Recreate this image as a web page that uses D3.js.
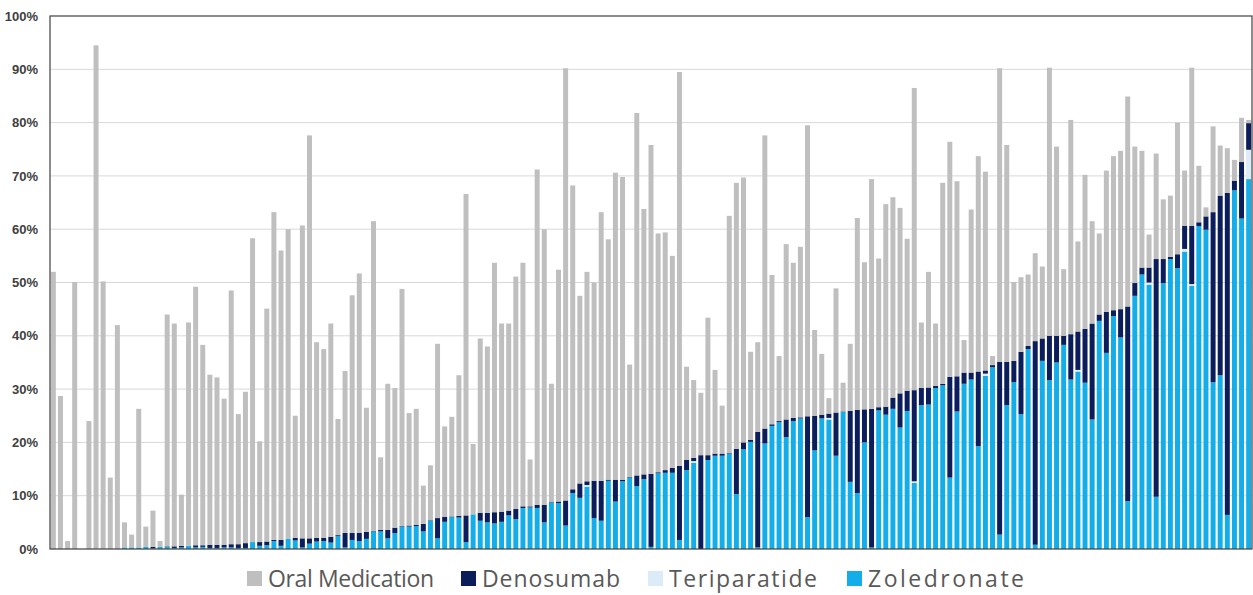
<!DOCTYPE html>
<html>
<head>
<meta http-equiv="Content-Type" content="text/html; charset=utf-8" />
<script src="https://cdn.jsdelivr.net/npm/d3@7/dist/d3.min.js"></script>
<title>Treatment mix</title>
<style>
  body { margin: 0; background: #fff; }
</style>
</head>
<body>
<svg width="1253" height="595" id="mainsvg"></svg>
<script>
// share of patients (%) per site, sites sorted by injectable share
const zoledronate = [0,0,0,0,0,0,0,0,0,0, 0.3,0.3,0.3,0.4,0.1,0.4,0.4,0.2,0.3,0.6,
  0.3,0.4,0.2,0.2,0.3,0.3,0.2,0.2,1.3,0.6, 0.7,1.5,0.6,1.9,1.6,0.3,1.0,1.4,1.5,1.2,
  2.4,0.3,1.7,1.5,1.9,3.3,3.3,2.0,3.0,4.2, 4.2,4.3,3.3,5.3,2.0,5.1,6.0,5.9,1.3,6.5,
  5.3,5.0,4.8,5.1,6.3,5.6,7.7,7.8,7.7,5.0, 8.7,8.6,4.4,10.5,9.6,11.7,5.8,5.3,12.8,8.9,
  12.7,13.4,11.8,13.1,0.4,14.2,14.3,14.3,1.7,14.8, 16.2,0,16.7,17.5,17.5,17.9,10.3,18.7,20.1,0.3,
  19.8,23.1,23.8,21.0,24.0,24.5,6.0,18.5,24.5,24.3, 17.5,25.7,12.6,10.5,20.0,0.3,26.0,25.2,26.3,22.8,
  25.9,12.4,27.0,27.1,30.2,30.7,13.4,25.8,31.0,31.8, 19.3,32.5,34.1,2.7,27.0,31.3,25.3,37.5,0.8,35.3,
  31.7,35.0,38.3,31.8,33.3,31.2,24.3,42.8,36.8,43.7, 39.7,9.0,47.5,51.5,49.6,9.8,49.9,54.4,52.7,55.8,
  49.4,60.6,59.9,31.3,32.6,6.4,67.3,62.0,69.4];
const teriparatide = [0,0,0,0,0,0,0,0,0,0, 0,0,0,0,0,0,0,0,0,0,
  0,0,0,0,0,0,0,0,0,0, 0,0,0,0,0,0,0,0,0,0,
  0,0,0,0,0,0,0,0,0,0, 0,0,0,0,0,0,0,0,0,0,
  0,0,0,0,0,0,0,0,0,0, 0,0,0,0,0,0.3,0,0,0,0,
  0,0,0,0,0,0,0,0,0,0, 0.3,0,0,0,0,0,0,0,0,0,
  0,0,0,0,0,0,0,0,0,0.3, 0,0,0,0,0,0,0,0,0,0,
  0,0.3,0,0,0,0,0,0,0,0, 0,0.4,0,0,0,0,0,0,0,0,
  0,0,0,0,0.3,0,0,0,0,0, 0,0,0,0,0.4,0,0,0,0,0.5,
  0.3,0,0,0,0,0,0,0,5.5];
const denosumab = [0,0,0,0,0,0,0,0,0,0, 0,0,0,0,0.3,0,0.1,0.3,0.3,0,
  0.4,0.3,0.6,0.6,0.5,0.6,0.7,0.9,0,0.7, 0.7,0.2,1.1,0,0.5,1.7,1.0,0.7,0.6,1.1,
  0.2,2.7,1.3,1.5,1.3,0.1,0.3,1.6,1.0,0.1, 0.2,0.2,1.4,0.1,3.8,0.9,0.1,0.3,5.0,0,
  1.5,1.8,2.1,1.9,0.9,1.9,0.3,0.2,0.6,3.3, 0.1,0.3,4.7,0.7,2.7,0.7,7.0,7.5,0.2,4.1,
  0.3,0.1,2.0,0.9,13.7,0.2,0.5,0.9,13.9,1.9, 0.6,17.6,0.9,0.4,0.4,0.1,8.5,1.3,0.4,21.7,
  2.8,0.3,0.2,3.3,0.6,0.2,18.9,6.5,0.7,0.8, 8.1,0.1,13.3,15.6,6.2,26.0,0.6,1.5,2.1,6.4,
  3.8,17.1,3.2,3.2,0.4,0.3,18.9,6.6,2.1,1.3, 14.0,0.6,0.4,32.4,8.1,4.0,11.7,0.6,38.2,4.2,
  8.3,5.0,1.7,8.5,7.2,10.1,18.0,1.2,7.7,1.1, 5.3,36.5,2.4,1.3,2.8,44.6,4.5,0.4,2.6,4.3,
  10.9,0.7,2.5,31.9,33.7,60.4,1.8,10.6,5.0];
const oral = [52.0,28.7,1.5,50.1,0,24.0,94.5,50.2,13.4,42.0, 4.7,2.4,26.0,3.8,6.8,1.1,43.5,41.8,9.6,41.9,
  48.5,37.6,31.9,31.4,27.4,47.6,24.4,28.4,57.0,18.9, 43.7,61.5,54.3,58.1,22.9,58.7,75.6,36.7,35.4,40.0,
  21.8,30.4,44.6,48.7,23.3,58.1,13.6,27.4,26.2,44.5, 21.1,21.8,7.2,10.3,32.7,17.0,18.7,26.4,60.3,13.2,
  32.7,31.2,46.8,35.3,35.1,43.6,45.7,8.8,62.9,51.7, 22.2,43.5,81.1,57.0,35.2,39.3,37.2,50.4,45.1,57.6,
  56.8,21.1,68.0,49.8,61.7,44.8,44.6,39.8,73.9,17.5, 14.6,11.7,25.8,15.7,9.0,44.5,49.9,49.7,16.5,16.8,
  55.0,28.0,12.2,32.9,29.1,32.0,54.6,16.1,11.4,2.9, 23.3,5.4,12.6,36.0,27.6,43.1,27.9,38.0,37.6,34.8,
  28.5,56.7,12.3,21.7,11.7,37.7,44.1,36.6,6.1,30.6, 40.4,37.3,1.7,55.1,40.7,14.8,14.0,13.4,16.5,13.5,
  50.3,35.5,12.5,40.2,16.9,28.9,19.2,15.2,26.5,28.9, 29.7,39.4,25.6,21.9,6.2,19.8,11.2,11.5,24.7,10.4,
  29.7,10.6,1.7,16.1,9.4,8.4,3.9,8.3,0.6];
const sites = zoledronate.map((d, i) => 'S' + (i + 1));
const yTicks = [0, 10, 20, 30, 40, 50, 60, 70, 80, 90, 100];

const seriesKeys = ['Zoledronate', 'Teriparatide', 'Denosumab', 'Oral Medication'];
const colors = {
  'Zoledronate': '#13aee9',
  'Teriparatide': '#dcebf8',
  'Denosumab': '#0b1d5a',
  'Oral Medication': '#bfbfbf'
};

let rows = sites.map((s, i) => ({
  site: s,
  'Zoledronate': zoledronate[i],
  'Teriparatide': teriparatide[i],
  'Denosumab': denosumab[i],
  'Oral Medication': oral[i]
}));

let svg = d3.select('#mainsvg');
const plotL = 50, plotR = 1252, plotT = 16, plotB = 549;

let x = d3.scaleBand().domain(sites).range([plotL, plotR])
  .paddingInner(0.3).paddingOuter(0.12);
let y = d3.scaleLinear().domain([0, 100]).range([plotB, plotT]);

// grid
svg.append('g').selectAll('line').data(yTicks.filter(d => d > 0 && d < 100)).join('line')
  .attr('x1', plotL).attr('x2', plotR)
  .attr('y1', d => y(d)).attr('y2', d => y(d))
  .attr('stroke', '#d9d9d9').attr('stroke-width', 1);

// bars
let stacked = d3.stack().keys(seriesKeys)(rows);
svg.append('g').selectAll('g').data(stacked).join('g')
  .attr('fill', d => colors[d.key])
  .selectAll('rect').data(d => d).join('rect')
  .attr('x', d => x(d.data.site))
  .attr('width', x.bandwidth())
  .attr('y', d => y(d[1]))
  .attr('height', d => Math.max(0, y(d[0]) - y(d[1])));

// frame
svg.append('rect')
  .attr('x', plotL).attr('y', plotT)
  .attr('width', plotR - plotL).attr('height', plotB - plotT)
  .attr('fill', 'none').attr('stroke', '#404040').attr('stroke-width', 1.2);

// y axis labels
let yAxis = d3.axisLeft(y).tickValues(yTicks).tickFormat(d => d + '%').tickSize(0).tickPadding(12);
let ga = svg.append('g').attr('transform', `translate(${plotL},0)`).call(yAxis);
ga.select('.domain').remove();
ga.selectAll('text')
  .attr('font-family', '"Liberation Sans", Arial, sans-serif')
  .attr('font-size', 13).attr('font-weight', 'bold').attr('fill', '#404040');

// legend
const legendX = [247, 461, 648, 847];
const legendW = [166, 138, 148, 156];
const legendOrder = ['Oral Medication', 'Denosumab', 'Teriparatide', 'Zoledronate'];
let lg = svg.append('g').selectAll('g').data(legendOrder).join('g')
  .attr('transform', (d, i) => `translate(${legendX[i]},571)`);
lg.append('rect').attr('width', 15).attr('height', 15).attr('fill', d => colors[d]);
lg.append('text').attr('x', 21).attr('y', 16)
  .attr('font-family', '"Open Sans", sans-serif').attr('font-size', 23)
  .attr('textLength', (d, i) => legendW[i]).attr('lengthAdjust', 'spacing')
  .attr('fill', '#595959').text(d => d);
</script>
</body>
</html>
